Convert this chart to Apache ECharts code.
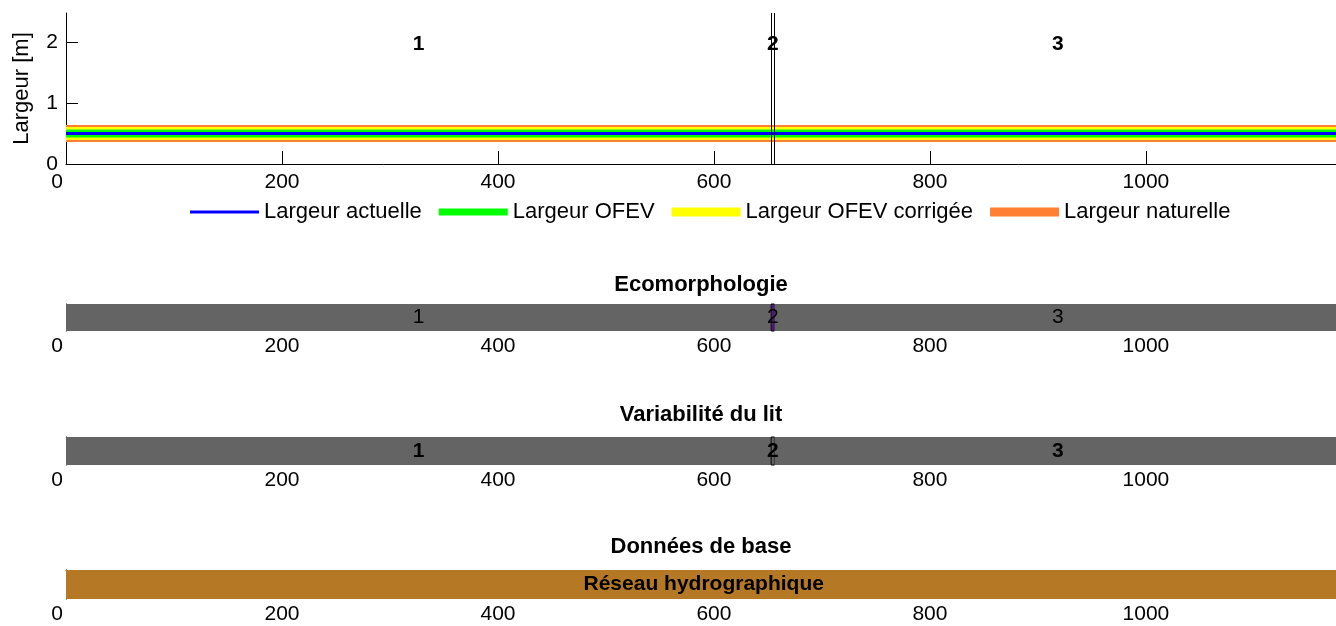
<!DOCTYPE html>
<html>
<head>
<meta charset="utf-8">
<title>Largeur</title>
<script src="https://cdn.jsdelivr.net/npm/echarts@6/dist/echarts.min.js"></script>
<style>
  html, body { margin: 0; padding: 0; background: #fff; }
  #chart { width: 1336px; height: 626px; }
</style>
</head>
<body>
<div id="chart"></div>
<script>
// distance le long du cours d'eau [m]
var distance = [0, 1181];
// largeurs [m]
var largeurActuelle = [0.5, 0.5];
var largeurOFEV = [0.5, 0.5];
var largeurOFEVCorrigee = [0.5, 0.5];
var largeurNaturelle = [0.5, 0.5];

// limites des tronçons
var troncons = [0, 653, 656, 1181];
var tronconNoms = ['1', '2', '3'];
var tronconLabelY = 2;

// classes par tronçon
var ecomorphoClasses = ['gris', 'violet', 'gris'];
var variabiliteClasses = ['gris', 'gris', 'gris'];

// données de base
var baseLimites = [0, 1181];
var baseNoms = ['Réseau hydrographique'];

var xTicks = [0, 200, 400, 600, 800, 1000];
var yTicks = [0, 1, 2];
var xMax = 1176;
var yMax = 2.475;

var FONT = "'Liberation Sans', Arial, Helvetica, sans-serif";
var classColors = { gris: '#646464', violet: '#55168f' };

function segments(bounds) {
  var out = [];
  for (var i = 0; i < bounds.length - 1; i++) out.push([bounds[i], bounds[i + 1]]);
  return out;
}
function pairs(xs, ys) {
  return xs.map(function (x, i) { return [x, ys[i]]; });
}

var xLabel = {
  fontSize: 21, fontFamily: FONT, color: '#000',
  customValues: xTicks,
  formatter: function (v) { return v === 0 ? '{z|0}' : String(v); },
  rich: { z: { padding: [0, 18, 0, 0], fontSize: 21, fontFamily: FONT, color: '#000' } }
};

function barRenderer(names, colors, bold, edged) {
  return function (params, api) {
    var i = params.dataIndex;
    var p0 = api.coord([api.value(0), 0]);
    var p1 = api.coord([api.value(1), 1]);
    var cs = params.coordSys;
    var rect = echarts.graphic.clipRectByRect({
      x: p0[0], y: p1[1], width: p1[0] - p0[0], height: p0[1] - p1[1]
    }, { x: cs.x, y: cs.y, width: cs.width, height: cs.height });
    var children = [];
    if (rect) {
      children.push({
        type: 'rect', shape: rect,
        style: {
          fill: colors[i],
          stroke: edged && edged[i] ? '#000' : null,
          lineWidth: edged && edged[i] ? 1 : 0
        }
      });
    }
    children.push({
      type: 'text', x: (p0[0] + p1[0]) / 2, y: (p0[1] + p1[1]) / 2, z2: 10,
      style: {
        text: names[i], fill: '#000',
        font: (bold ? 'bold ' : '') + '21px ' + FONT,
        align: 'center', verticalAlign: 'middle',
        textAlign: 'center', textVerticalAlign: 'middle'
      }
    });
    return { type: 'group', children: children };
  };
}

function midLabels(params, api) {
  var p = api.coord([api.value(0), api.value(1)]);
  return {
    type: 'text', x: p[0], y: p[1] + 2,
    style: {
      text: tronconNoms[params.dataIndex], fill: '#000',
      font: 'bold 21px ' + FONT,
      align: 'center', verticalAlign: 'middle',
      textAlign: 'center', textVerticalAlign: 'middle'
    }
  };
}

var tronconMilieux = tronconNoms.map(function (n, i) {
  return [(troncons[i] + troncons[i + 1]) / 2, tronconLabelY];
});

var chart = echarts.init(document.getElementById('chart'), null, { renderer: 'canvas' });

function titre(txt, y) {
  return {
    type: 'text', x: 701, y: y,
    style: { text: txt, font: 'bold 22px ' + FONT, fill: '#000', align: 'center', verticalAlign: 'middle', textAlign: 'center', textVerticalAlign: 'middle' }
  };
}

var option = {
  animation: false,
  backgroundColor: '#fff',
  textStyle: { fontFamily: FONT },
  grid: [
    { left: 66, top: 13, width: 1270, height: 151 },
    { left: 66, top: 304, width: 1270, height: 27 },
    { left: 66, top: 437, width: 1270, height: 28 },
    { left: 66, top: 570, width: 1270, height: 29 }
  ],
  graphic: [
    titre('Ecomorphologie', 285),
    titre('Variabilité du lit', 415),
    titre('Données de base', 547)
  ],
  legend: {
    left: 185, top: 196,
    itemWidth: 69, itemHeight: 14, itemGap: 17,
    textStyle: { fontSize: 22, fontFamily: FONT, color: '#000' },
    itemStyle: { borderWidth: 0 },
    selectedMode: false,
    data: [
      { name: 'Largeur actuelle', icon: 'path://M0,0H69V3H0Z' },
      { name: 'Largeur OFEV', icon: 'path://M0,0H69V7H0Z' },
      { name: 'Largeur OFEV corrigée', icon: 'path://M0,0H69V9H0Z' },
      { name: 'Largeur naturelle', icon: 'path://M0,0H69V9H0Z' }
    ]
  },
  xAxis: [
    {
      gridIndex: 0, type: 'value', min: 0, max: xMax,
      axisLine: { show: true, onZero: false, lineStyle: { color: '#000', width: 1 } },
      axisTick: { show: true, inside: true, length: 13, customValues: xTicks, lineStyle: { color: '#000' } },
      axisLabel: Object.assign({ margin: 8 }, xLabel),
      splitLine: { show: false }
    },
    {
      gridIndex: 1, type: 'value', min: 0, max: xMax,
      axisLine: { show: false }, axisTick: { show: false },
      axisLabel: Object.assign({ margin: 5 }, xLabel),
      splitLine: { show: false }
    },
    {
      gridIndex: 2, type: 'value', min: 0, max: xMax,
      axisLine: { show: false }, axisTick: { show: false },
      axisLabel: Object.assign({ margin: 5 }, xLabel),
      splitLine: { show: false }
    },
    {
      gridIndex: 3, type: 'value', min: 0, max: xMax,
      axisLine: { show: false }, axisTick: { show: false },
      axisLabel: Object.assign({ margin: 5 }, xLabel),
      splitLine: { show: false }
    },
    {
      gridIndex: 2, type: 'value', position: 'top', min: 0, max: xMax,
      axisLine: { show: true, lineStyle: { color: '#c8c8c8', width: 1 } },
      axisTick: { show: false }, axisLabel: { show: false }, splitLine: { show: false }
    },
    {
      gridIndex: 3, type: 'value', position: 'top', min: 0, max: xMax,
      axisLine: { show: true, lineStyle: { color: '#333', width: 1 } },
      axisTick: { show: false }, axisLabel: { show: false }, splitLine: { show: false }
    }
  ],
  yAxis: [
    {
      gridIndex: 0, type: 'value', min: 0, max: yMax,
      name: 'Largeur [m]', nameLocation: 'middle', nameGap: 33,
      nameTextStyle: { fontSize: 22, fontFamily: FONT, color: '#000' },
      axisLine: { show: true, lineStyle: { color: '#000', width: 1 } },
      axisTick: { show: true, inside: true, length: 12, customValues: yTicks, lineStyle: { color: '#000' } },
      axisLabel: { margin: 8, fontSize: 21, fontFamily: FONT, color: '#000', customValues: yTicks },
      splitLine: { show: false }
    },
    { gridIndex: 1, type: 'value', min: 0, max: 1, axisLine: { show: true, lineStyle: { color: '#000' } }, axisTick: { show: false }, axisLabel: { show: false }, splitLine: { show: false } },
    { gridIndex: 2, type: 'value', min: 0, max: 1, axisLine: { show: true, lineStyle: { color: '#000' } }, axisTick: { show: false }, axisLabel: { show: false }, splitLine: { show: false } },
    { gridIndex: 3, type: 'value', min: 0, max: 1, axisLine: { show: true, lineStyle: { color: '#000' } }, axisTick: { show: false }, axisLabel: { show: false }, splitLine: { show: false } }
  ],
  series: [
    {
      name: 'Largeur naturelle', type: 'line', xAxisIndex: 0, yAxisIndex: 0,
      data: pairs(distance, largeurNaturelle), symbol: 'none', silent: true,
      itemStyle: { color: '#ff8033' }, lineStyle: { color: '#ff8033', width: 17 }
    },
    {
      name: 'Largeur OFEV corrigée', type: 'line', xAxisIndex: 0, yAxisIndex: 0,
      data: pairs(distance, largeurOFEVCorrigee), symbol: 'none', silent: true,
      itemStyle: { color: '#ffff00' }, lineStyle: { color: '#ffff00', width: 13 }
    },
    {
      name: 'Largeur OFEV', type: 'line', xAxisIndex: 0, yAxisIndex: 0,
      data: pairs(distance, largeurOFEV), symbol: 'none', silent: true,
      itemStyle: { color: '#00ff00' }, lineStyle: { color: '#00ff00', width: 8 }
    },
    {
      name: 'Largeur actuelle', type: 'line', xAxisIndex: 0, yAxisIndex: 0,
      data: pairs(distance, largeurActuelle), symbol: 'none', silent: true,
      itemStyle: { color: '#0000ff' }, lineStyle: { color: '#0000ff', width: 3 },
      markLine: {
        silent: true, symbol: ['none', 'none'], label: { show: false },
        lineStyle: { color: '#000', width: 1, type: 'solid' },
        data: troncons.slice(1, -1).map(function (x) { return { xAxis: x }; })
      }
    },
    {
      type: 'custom', xAxisIndex: 0, yAxisIndex: 0, silent: true,
      data: tronconMilieux, renderItem: midLabels, z: 5
    },
    {
      type: 'custom', xAxisIndex: 1, yAxisIndex: 1, silent: true,
      data: segments(troncons),
      renderItem: barRenderer(tronconNoms, ecomorphoClasses.map(function (c) { return classColors[c]; }), false, [false, true, false])
    },
    {
      type: 'custom', xAxisIndex: 2, yAxisIndex: 2, silent: true,
      data: segments(troncons),
      renderItem: barRenderer(tronconNoms, variabiliteClasses.map(function (c) { return classColors[c]; }), true, [false, true, false])
    },
    {
      type: 'custom', xAxisIndex: 3, yAxisIndex: 3, silent: true,
      data: segments(baseLimites),
      renderItem: barRenderer(baseNoms, ['#b57824'], true, null)
    }
  ]
};

chart.setOption(option);
</script>
</body>
</html>
